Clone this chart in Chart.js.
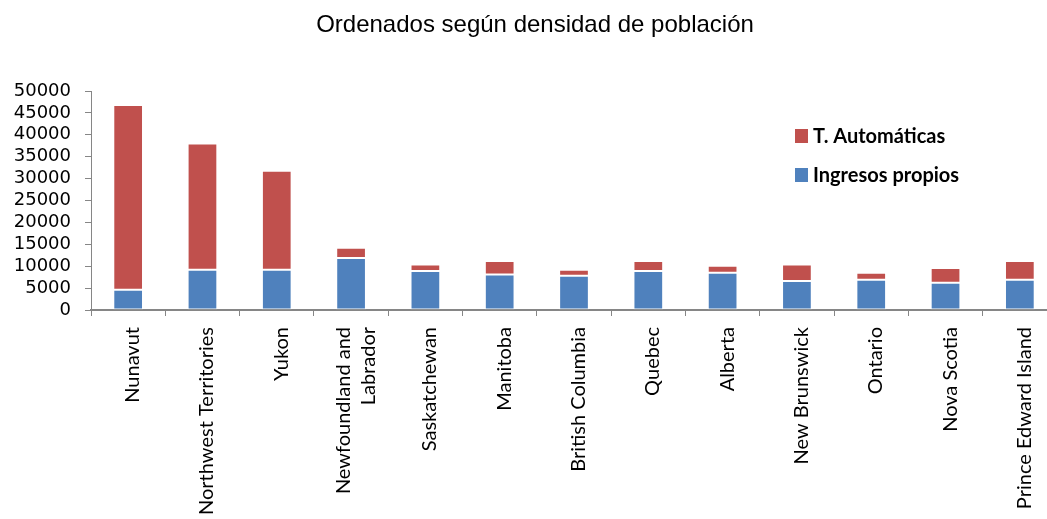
<!DOCTYPE html>
<html>
<head>
<meta charset="utf-8">
<script src="https://cdn.jsdelivr.net/npm/chart.js@4/dist/chart.umd.min.js"></script>
<style>
  html, body { margin: 0; padding: 0; background: #fff; overflow: hidden; }
  #wrap { position: relative; width: 1057px; height: 519px; }
</style>
</head>
<body>
<div id="wrap"><canvas id="c"></canvas></div>
<script>
const titleText = 'Ordenados según densidad de población';
const categories = [
  'Nunavut', 'Northwest Territories', 'Yukon', ['Newfoundland and', 'Labrador'],
  'Saskatchewan', 'Manitoba', 'British Columbia', 'Quebec', 'Alberta',
  'New Brunswick', 'Ontario', 'Nova Scotia', 'Prince Edward Island'
];
const ingresosPropios = [4600, 9200, 9200, 11900, 8900, 8100, 7800, 8900, 8500, 6600, 6900, 6200, 6900];
const tAutomaticas   = [42200, 28800, 22600, 2300, 1500, 3100, 1400, 2300, 1600, 3800, 1600, 3400, 4300];
const yTicks = [0, 5000, 10000, 15000, 20000, 25000, 30000, 35000, 40000, 45000, 50000];

const AXIS = '#868686';

// Title + rotated category labels + legend, drawn with positions from the chart's own scales
const decorPlugin = {
  id: 'decor',
  afterDraw(chart) {
    const ctx = chart.ctx;
    const xs = chart.scales.x;
    ctx.save();
    // title
    ctx.font = '24px "Liberation Sans", Arial, sans-serif';
    ctx.fillStyle = '#000';
    ctx.textAlign = 'center';
    ctx.textBaseline = 'middle';
    ctx.fillText(titleText, 535, 25);

    // category labels (rotated, reading bottom-to-top, multi-line centred on tick)
    ctx.font = '20px Lato, sans-serif';
    ctx.textAlign = 'right';
    ctx.textBaseline = 'alphabetic';
    const lh = 25;
    categories.forEach((lab, i) => {
      const lines = Array.isArray(lab) ? lab : [lab];
      const cx = xs.getPixelForTick(i);
      lines.forEach((ln, j) => {
        const bx = cx + 11 + (j - (lines.length - 1) / 2) * lh;
        ctx.save();
        ctx.translate(bx, xs.top + 17);
        ctx.rotate(-Math.PI / 2);
        ctx.fillText(ln, 0, 0);
        ctx.restore();
      });
    });

    // legend
    const items = chart.data.datasets.slice().reverse();
    const x0 = 795, y0 = 136, gap = 39;
    ctx.font = 'bold 20px Lato, sans-serif';
    ctx.textBaseline = 'middle';
    ctx.textAlign = 'left';
    items.forEach((ds, i) => {
      const y = y0 + i * gap;
      ctx.fillStyle = ds.backgroundColor;
      ctx.fillRect(x0, y - 7, 13, 14);
      ctx.fillStyle = '#000';
      ctx.fillText(ds.label, x0 + 18, y + 1);
    });
    ctx.restore();
  }
};

new Chart(document.getElementById('c'), {
  type: 'bar',
  data: {
    labels: categories,
    datasets: [
      { label: 'Ingresos propios', data: ingresosPropios, backgroundColor: '#4F81BD',
        borderColor: 'rgba(255,255,255,0.4)', borderWidth: 1, borderSkipped: false,
        barPercentage: 0.4, categoryPercentage: 1 },
      { label: 'T. Automáticas', data: tAutomaticas, backgroundColor: '#C0504D',
        borderColor: 'rgba(255,255,255,0.4)', borderWidth: 1, borderSkipped: false,
        barPercentage: 0.4, categoryPercentage: 1 }
    ]
  },
  options: {
    responsive: true,
    maintainAspectRatio: false,
    animation: false,
    layout: { padding: { top: 91, left: 0, right: 0, bottom: 0 } },
    plugins: {
      legend: { display: false },
      tooltip: { enabled: false },
      title: { display: false }
    },
    scales: {
      x: {
        stacked: true,
        offset: true,
        grid: { display: true, offset: true, drawOnChartArea: false, drawTicks: true, tickLength: 6, color: AXIS, lineWidth: 1 },
        border: { display: true, color: AXIS, width: 2 },
        ticks: { display: false, autoSkip: false },
        afterFit(scale) { scale.height = 209; }
      },
      y: {
        stacked: true,
        min: 0, max: 50000,
        afterBuildTicks(scale) { scale.ticks = yTicks.map(v => ({ value: v })); },
        grid: { display: true, drawOnChartArea: false, drawTicks: true, tickLength: 6, color: AXIS },
        border: { display: true, color: AXIS, width: 1 },
        ticks: {
          autoSkip: false,
          padding: 14, color: '#000',
          font: { family: '"DejaVu Sans", sans-serif', size: 18 },
          callback: (v) => String(v)
        },
        afterFit(scale) { scale.width = 91; }
      }
    }
  },
  plugins: [decorPlugin]
});
</script>
</body>
</html>
